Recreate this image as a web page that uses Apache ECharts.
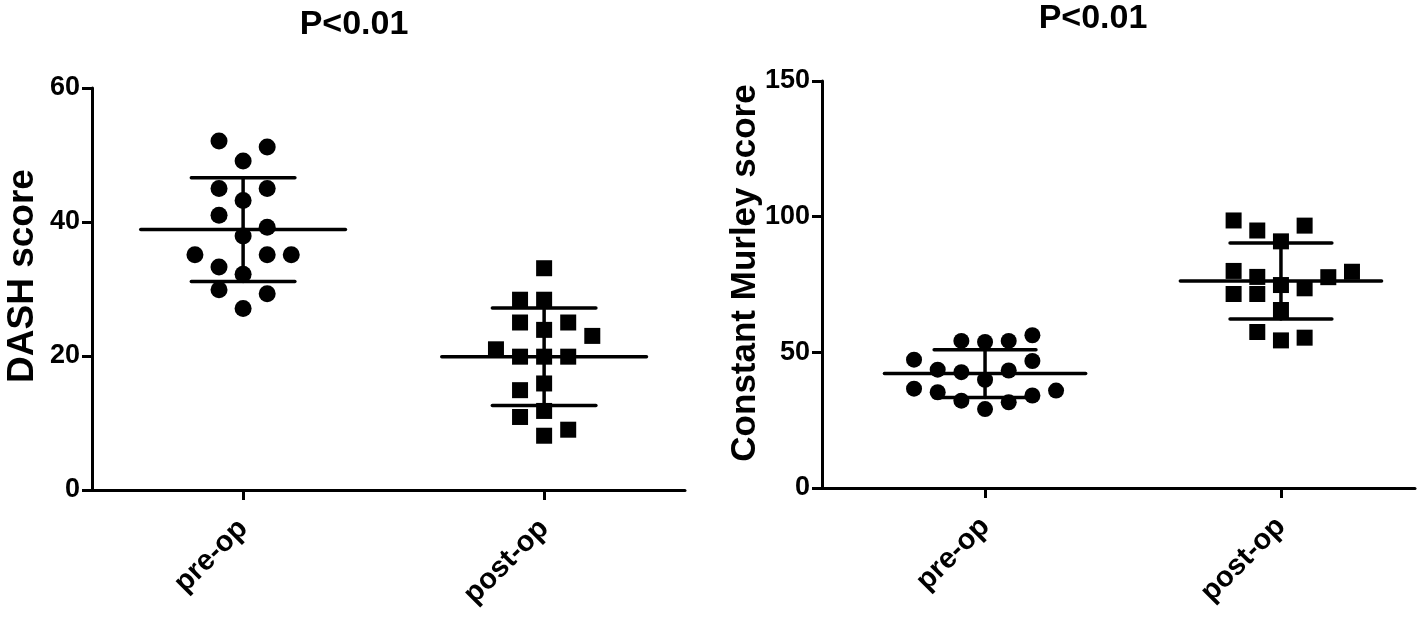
<!DOCTYPE html>
<html>
<head>
<meta charset="utf-8">
<script src="https://cdn.jsdelivr.net/npm/echarts@6/dist/echarts.min.js"></script>
<style>
html,body{margin:0;padding:0;background:#fff;}
#chart{width:1418px;height:618px;}
</style>
</head>
<body>
<div id="chart"></div>
<script>
// ---- Data ----
const categories = ['pre-op', 'post-op'];
const titles = ['P<0.01', 'P<0.01'];
const yNames = ['DASH score', 'Constant Murley score'];
const dashTicks = [0, 20, 40, 60];
const cmsTicks = [0, 50, 100, 150];

// DASH score, pre-op (value, horizontal scatter column)
const dashPre     = [52.1, 51.2, 49.1, 45.0, 45.0, 43.2, 41.0, 39.2, 37.9, 35.1, 35.1, 35.1, 33.3, 32.2, 29.9, 29.3, 27.1];
const dashPreCols = [-1,    1,    0,   -1,    1,    0,   -1,    1,    0,   -2,    1,    2,   -1,    0,   -1,    1,    0];
// DASH score, post-op
const dashPost     = [33.1, 28.4, 28.4, 25.0, 25.0, 23.9, 23.0, 21.0, 19.9, 19.9, 19.9, 15.9, 14.9, 11.8, 10.9, 9.0, 8.1];
const dashPostCols = [0,   -1,    0,   -1,    1,    0,    2,   -2,   -1,    0,    1,    0,   -1,    0,   -1,   1,   0];
// Constant Murley score, pre-op
const cmsPre     = [54.2, 53.8, 54.2, 56.3, 47.3, 46.8, 43.6, 42.7, 43.3, 39.9, 36.6, 35.9, 35.3, 32.2, 31.6, 34.1, 29.1];
const cmsPreCols = [-1,    0,    1,    2,   -3,    2,   -2,   -1,    1,    0,   -3,    3,   -2,   -1,    1,    2,    0];
// Constant Murley score, post-op
const cmsPost     = [98.6, 94.9, 96.7, 90.9, 80.0, 71.5, 77.8, 71.5, 74.8, 73.6, 77.7, 79.7, 65.6, 57.5, 54.4, 55.4];
const cmsPostCols = [-2,   -1,    1,    0,   -2,   -2,   -1,   -1,    0,    1,    2,    3,    0,   -1,    0,    1];

// ---- helpers ----
const COL_STEP = 0.08;
function pts(group, vals, cols) { return vals.map((v, i) => [group + cols[i] * COL_STEP, v]); }
function mean(a) { return a.reduce((s, v) => s + v, 0) / a.length; }
function sd(a) { const m = mean(a); return Math.sqrt(a.reduce((s, v) => s + (v - m) * (v - m), 0) / (a.length - 1)); }
function stats(groups) { return groups.map((g, i) => [i + 1, mean(g), sd(g)]); }

const FONT = "'Liberation Sans', Arial, Helvetica, sans-serif";
const LW = 3;

function renderStat(params, api) {
  const x = api.value(0), m = api.value(1), s = api.value(2);
  const st = { stroke: '#000', lineWidth: 3.5, lineCap: 'round' };
  const seg = (xa, ya, xb, yb) => {
    const a = api.coord([xa, ya]), b = api.coord([xb, yb]);
    return { type: 'line', shape: { x1: a[0], y1: a[1], x2: b[0], y2: b[1] }, style: st };
  };
  return {
    type: 'group',
    children: [
      seg(x - 0.34, m, x + 0.34, m),
      seg(x, m - s, x, m + s),
      seg(x - 0.172, m + s, x + 0.172, m + s),
      seg(x - 0.172, m - s, x + 0.172, m - s)
    ]
  };
}

function xAxis(gi, min, max) {
  return {
    type: 'value', gridIndex: gi, min: min, max: max,
    splitLine: { show: false },
    axisLine: { show: true, onZero: false, lineStyle: { color: '#000', width: LW } },
    axisTick: { show: true, customValues: [1, 2], length: 10, lineStyle: { color: '#000', width: LW } },
    axisLabel: {
      show: true, customValues: [1, 2], rotate: 45, margin: 34,
      formatter: v => categories[Math.round(v) - 1] || '',
      color: '#000', fontWeight: 'bold', fontSize: 29, fontFamily: FONT
    }
  };
}
function yAxis(gi, ticks) {
  return {
    type: 'value', gridIndex: gi, min: ticks[0], max: ticks[ticks.length - 1], interval: ticks[1] - ticks[0],
    splitLine: { show: false },
    axisLine: { show: true, onZero: false, lineStyle: { color: '#000', width: LW } },
    axisTick: { show: true, length: 10, lineStyle: { color: '#000', width: LW } },
    axisLabel: { color: '#000', fontWeight: 'bold', fontSize: 27, fontFamily: FONT, margin: 12 }
  };
}
function txt(text, x, y, size, rot) {
  return { type: 'text', x: x, y: y, rotation: rot || 0,
    style: { text: text, font: 'bold ' + size + 'px ' + FONT, fill: '#000', textAlign: 'center', textVerticalAlign: 'middle' } };
}

const option = {
  backgroundColor: '#fff',
  animation: false,
  graphic: [
    txt(titles[0], 354, 25, 34),
    txt(titles[1], 1093, 19, 34),
    txt(yNames[0], 23, 276, 37, Math.PI / 2),
    txt(yNames[1], 745, 273, 35, Math.PI / 2)
  ],
  grid: [
    { left: 92, top: 88, width: 593, height: 402 },
    { left: 822, top: 81, width: 593, height: 407 }
  ],
  xAxis: [xAxis(0, 0.498, 2.468), xAxis(1, 0.449, 2.453)],
  yAxis: [yAxis(0, dashTicks), yAxis(1, cmsTicks)],
  series: [
    { type: 'scatter', xAxisIndex: 0, yAxisIndex: 0, symbol: 'circle', symbolSize: 17, itemStyle: { color: '#000', opacity: 1 }, data: pts(1, dashPre, dashPreCols) },
    { type: 'scatter', xAxisIndex: 0, yAxisIndex: 0, symbol: 'rect', symbolSize: 16, itemStyle: { color: '#000', opacity: 1 }, data: pts(2, dashPost, dashPostCols) },
    { type: 'scatter', xAxisIndex: 1, yAxisIndex: 1, symbol: 'circle', symbolSize: 16, itemStyle: { color: '#000', opacity: 1 }, data: pts(1, cmsPre, cmsPreCols) },
    { type: 'scatter', xAxisIndex: 1, yAxisIndex: 1, symbol: 'rect', symbolSize: 16, itemStyle: { color: '#000', opacity: 1 }, data: pts(2, cmsPost, cmsPostCols) },
    { type: 'custom', xAxisIndex: 0, yAxisIndex: 0, clip: false, renderItem: renderStat, encode: { x: 0, y: 1 }, data: stats([dashPre, dashPost]) },
    { type: 'custom', xAxisIndex: 1, yAxisIndex: 1, clip: false, renderItem: renderStat, encode: { x: 0, y: 1 }, data: stats([cmsPre, cmsPost]) }
  ]
};

const chart = echarts.init(document.getElementById('chart'), null, { renderer: 'canvas' });
chart.setOption(option);
</script>
</body>
</html>
